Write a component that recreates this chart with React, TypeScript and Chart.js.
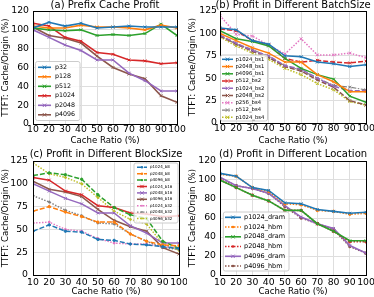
import React, { useEffect, useRef } from "react";
import { Chart, registerables } from "chart.js";
Chart.register(...registerables);

const FONT = '"DejaVu Sans", "Liberation Sans", sans-serif';

const ratios = [10, 20, 30, 40, 50, 60, 70, 80, 90, 100];
const yTicksA = { max: 120, step: 20 };
const yTicksB = { max: 125, step: 25 };

// (a) Prefix Cache Profit
const a_p32 = [102, 108, 104, 107, 102, 103, 104, 103, 103, 103];
const a_p128 = [104, 102, 102, 105, 103, 103, 102, 100, 105, 102];
const a_p512 = [102, 100, 99, 100, 94, 95, 94, 96, 106, 94];
const a_p1024 = [107, 104, 92, 88, 76, 74, 68, 67, 64, 65];
const a_p2048 = [100, 92, 84, 78, 68, 68, 54, 46, 35, 35];
const a_p4096 = [103, 94, 91, 86, 72, 60, 53, 48, 30, 23];

// (b) Profit in Different BatchSize
const b_p1024_bs1 = [106, 104, 92, 88, 75, 74, 68, 66, 63, 65];
const b_p2048_bs1 = [100, 92, 84, 78, 68, 68, 54, 46, 35, 35];
const b_p4096_bs1 = [103, 94, 91, 86, 72, 61, 54, 49, 30, 23];
const b_p512_bs2 = [105, 103, 92, 87, 72, 68, 70, 68, 67, 69];
const b_p1024_bs2 = [98, 89, 81, 75, 64, 60, 50, 41, 36, 36];
const b_p2048_bs2 = [97, 88, 80, 73, 63, 58, 48, 40, 25, 20];
const b_p256_bs4 = [120, 99, 97, 87, 77, 94, 76, 76, 78, 73];
const b_p512_bs4 = [98, 88, 82, 74, 64, 59, 50, 42, 40, 37];
const b_p1024_bs4 = [96, 86, 78, 71, 61, 54, 44, 37, 24, 20];

// (c) Profit in Different BlockSize
const c_p1024_b8 = [48, 55, 48, 47, 39, 38, 34, 33, 31, 29];
const c_p2048_b8 = [70, 75, 69, 64, 58, 58, 45, 37, 33, 32];
const c_p4096_b8 = [109, 112, 110, 105, 88, 74, 66, 62, 37, 29];
const c_p1024_b16 = [107, 104, 92, 88, 76, 74, 68, 67, 64, 65];
const c_p2048_b16 = [100, 92, 84, 78, 68, 68, 54, 46, 35, 35];
const c_p4096_b16 = [103, 94, 91, 86, 72, 60, 53, 48, 30, 23];
const c_p1024_b32 = [57, 58, 50, 48, 40, 35, 34, 34, 31, 30];
const c_p2048_b32 = [87, 80, 71, 65, 57, 56, 45, 37, 30, 28];
const c_p4096_b32 = [123, 111, 107, 100, 85, 70, 61, 56, 34, 27];

// (d) Profit in Different Location
const d_p1024_dram = [107, 104, 92, 89, 76, 75, 69, 67, 65, 66];
const d_p1024_hbm = [106, 104, 92, 88, 75, 74, 68, 67, 64, 65];
const d_p2048_dram = [100, 92, 84, 78, 68, 68, 54, 46, 36, 36];
const d_p2048_hbm = [100, 92, 84, 78, 68, 68, 54, 46, 35, 35];
const d_p4096_dram = [103, 94, 91, 86, 73, 61, 54, 49, 31, 23];
const d_p4096_hbm = [102, 94, 91, 86, 72, 60, 54, 48, 30, 23];

const BLUE = "#1f77b4", ORANGE = "#ff7f0e", GREEN = "#2ca02c", RED = "#d62728",
  PURPLE = "#9467bd", BROWN = "#8c564b", PINK = "#e377c2", GREY = "#7f7f7f", OLIVE = "#bcbd22";

const SOLID: number[] = [];
const DASHED = [5, 2];
const DOTTED = [1.5, 1.5];
const DASHDOT = [5, 1.5, 1.5, 1.5];

type Series = { label: string; data: number[]; color: string; dash: number[]; point: string; pr: number; lw: number };
const s = (label: string, data: number[], color: string, dash: number[], point = "crossRot", pr = 2, lw = 1.6): Series =>
  ({ label, data, color, dash, point, pr, lw });

type PanelCfg = {
  left: number; top: number; w: number; h: number;
  area: { L: number; T: number; R: number; B: number };
  title: string; titleY: number;
  yt: { max: number; step: number };
  yPad: number; xPad: number; xTitlePad: number;
  series: Series[];
  legend: { x: number; y: number; w: number; h: number; y0: number; dy: number; l0: number; l1: number; tx: number; fs: number };
};

const panels: PanelCfg[] = [
  {
    left: 0, top: 0, w: 187, h: 148,
    area: { L: 33, T: 11, R: 177, B: 124 },
    title: "(a) Prefix Cache Profit", titleY: 5,
    yt: yTicksA, yPad: 4, xPad: 0, xTitlePad: 2,
    series: [
      s("p32", a_p32, BLUE, SOLID),
      s("p128", a_p128, ORANGE, SOLID),
      s("p512", a_p512, GREEN, SOLID),
      s("p1024", a_p1024, RED, SOLID),
      s("p2048", a_p2048, PURPLE, SOLID),
      s("p4096", a_p4096, BROWN, SOLID),
    ],
    legend: { x: 35.5, y: 61.5, w: 44.5, h: 59, y0: 67.3, dy: 9.5, l0: 38, l1: 51, tx: 55, fs: 6.3 },
  },
  {
    left: 187, top: 0, w: 187, h: 148,
    area: { L: 33, T: 11, R: 179, B: 123 },
    title: "(b) Profit in Different BatchSize", titleY: 5,
    yt: yTicksB, yPad: 3, xPad: 0, xTitlePad: 2,
    series: [
      s("p1024_bs1", b_p1024_bs1, BLUE, SOLID, "crossRot", 2, 1.5),
      s("p2048_bs1", b_p2048_bs1, ORANGE, SOLID, "crossRot", 2, 1.5),
      s("p4096_bs1", b_p4096_bs1, GREEN, SOLID, "crossRot", 2, 1.5),
      s("p512_bs2", b_p512_bs2, RED, DASHED, "crossRot", 2, 1.5),
      s("p1024_bs2", b_p1024_bs2, PURPLE, DASHED, "crossRot", 2, 1.5),
      s("p2048_bs2", b_p2048_bs2, BROWN, DASHED, "crossRot", 2, 1.5),
      s("p256_bs4", b_p256_bs4, PINK, DOTTED, "crossRot", 2, 1.5),
      s("p512_bs4", b_p512_bs4, GREY, DASHDOT, "crossRot", 2, 1.2),
      s("p1024_bs4", b_p1024_bs4, OLIVE, DOTTED, "crossRot", 2, 1.5),
    ],
    legend: { x: 33.5, y: 55, w: 47, h: 66, y0: 59.3, dy: 7.25, l0: 35, l1: 46, tx: 48.5, fs: 5.3 },
  },
  {
    left: 0, top: 148, w: 187, h: 149,
    area: { L: 33, T: 13, R: 179, B: 127 },
    title: "(c) Profit in Different BlockSize", titleY: 6,
    yt: yTicksB, yPad: 5, xPad: 2, xTitlePad: 0,
    series: [
      s("p1024_b8", c_p1024_b8, BLUE, DASHED, "circle", 1.2, 1.5),
      s("p2048_b8", c_p2048_b8, ORANGE, DASHED, "circle", 1.2, 1.5),
      s("p4096_b8", c_p4096_b8, GREEN, DASHED, "circle", 1.2, 1.5),
      s("p1024_b16", c_p1024_b16, RED, SOLID, "crossRot", 2, 1.5),
      s("p2048_b16", c_p2048_b16, PURPLE, SOLID, "crossRot", 2, 1.5),
      s("p4096_b16", c_p4096_b16, BROWN, SOLID, "crossRot", 2, 1.5),
      s("p1024_b32", c_p1024_b32, PINK, DOTTED, "circle", 1, 1.4),
      s("p2048_b32", c_p2048_b32, GREY, DOTTED, "circle", 1, 1.4),
      s("p4096_b32", c_p4096_b32, OLIVE, DOTTED, "circle", 1, 1.4),
    ],
    legend: { x: 134, y: 15, w: 44, h: 60, y0: 19.3, dy: 6.4, l0: 137, l1: 147, tx: 150, fs: 4 },
  },
  {
    left: 187, top: 148, w: 187, h: 149,
    area: { L: 33, T: 13, R: 179, B: 127 },
    title: "(d) Profit in Different Location", titleY: 6,
    yt: yTicksA, yPad: 4, xPad: 2, xTitlePad: 0,
    series: [
      s("p1024_dram", d_p1024_dram, BLUE, SOLID),
      s("p1024_hbm", d_p1024_hbm, ORANGE, DOTTED, "circle", 1.3),
      s("p2048_dram", d_p2048_dram, GREEN, SOLID),
      s("p2048_hbm", d_p2048_hbm, RED, DOTTED, "circle", 1.3),
      s("p4096_dram", d_p4096_dram, PURPLE, SOLID),
      s("p4096_hbm", d_p4096_hbm, BROWN, DOTTED, "circle", 1.3),
    ],
    legend: { x: 36.3, y: 64, w: 65.7, h: 59, y0: 69.3, dy: 9.75, l0: 38, l1: 54, tx: 57, fs: 6.5 },
  },
];

function drawMarker(ctx: CanvasRenderingContext2D, style: string, r: number, x: number, y: number, color: string) {
  ctx.save();
  ctx.setLineDash([]);
  if (style === "circle") {
    ctx.fillStyle = color;
    ctx.beginPath();
    ctx.arc(x, y, r, 0, Math.PI * 2);
    ctx.fill();
  } else {
    const d = r * Math.SQRT1_2 * 1.2;
    ctx.strokeStyle = color;
    ctx.lineWidth = 1;
    ctx.beginPath();
    ctx.moveTo(x - d, y - d); ctx.lineTo(x + d, y + d);
    ctx.moveTo(x - d, y + d); ctx.lineTo(x + d, y - d);
    ctx.stroke();
  }
  ctx.restore();
}

function makeDeco(cfg: PanelCfg) {
  return {
    id: "deco",
    afterDatasetsDraw(chart: any) {
      const ctx: CanvasRenderingContext2D = chart.ctx;
      const a = chart.chartArea;
      ctx.save();
      // frame
      ctx.strokeStyle = "#000";
      ctx.lineWidth = 1;
      ctx.setLineDash([]);
      ctx.strokeRect(Math.round(a.left) + 0.5, Math.round(a.top) + 0.5,
        Math.round(a.right) - Math.round(a.left), Math.round(a.bottom) - Math.round(a.top));
      // legend
      const lg = cfg.legend;
      ctx.beginPath();
      const r = 2;
      const bx = lg.x, by = lg.y, bw = lg.w, bh = lg.h;
      ctx.moveTo(bx + r, by);
      ctx.lineTo(bx + bw - r, by);
      ctx.quadraticCurveTo(bx + bw, by, bx + bw, by + r);
      ctx.lineTo(bx + bw, by + bh - r);
      ctx.quadraticCurveTo(bx + bw, by + bh, bx + bw - r, by + bh);
      ctx.lineTo(bx + r, by + bh);
      ctx.quadraticCurveTo(bx, by + bh, bx, by + bh - r);
      ctx.lineTo(bx, by + r);
      ctx.quadraticCurveTo(bx, by, bx + r, by);
      ctx.closePath();
      ctx.fillStyle = "rgba(255,255,255,0.8)";
      ctx.fill();
      ctx.strokeStyle = "#cccccc";
      ctx.lineWidth = 1;
      ctx.stroke();
      ctx.font = `${lg.fs}px ${FONT}`;
      ctx.textBaseline = "middle";
      ctx.textAlign = "left";
      cfg.series.forEach((se, i) => {
        const y = lg.y0 + i * lg.dy;
        ctx.strokeStyle = se.color;
        ctx.lineWidth = se.lw;
        ctx.setLineDash(se.dash);
        ctx.beginPath();
        ctx.moveTo(lg.l0, y);
        ctx.lineTo(lg.l1, y);
        ctx.stroke();
        ctx.setLineDash([]);
        drawMarker(ctx, se.point, se.pr, (lg.l0 + lg.l1) / 2, y, se.color);
        ctx.fillStyle = "#000";
        ctx.fillText(se.label, lg.tx, y);
      });
      // title
      ctx.font = `10px ${FONT}`;
      ctx.textAlign = "center";
      ctx.textBaseline = "middle";
      ctx.fillStyle = "#000";
      ctx.fillText(cfg.title, (a.left + a.right) / 2, cfg.titleY);
      ctx.restore();
    },
  };
}

function Panel({ cfg }: { cfg: PanelCfg }) {
  const ref = useRef<HTMLCanvasElement>(null);
  useEffect(() => {
    const { L, T, R, B } = cfg.area;
    const grid = { color: "#dedede", lineWidth: 1, drawTicks: false };
    const chart = new Chart(ref.current as HTMLCanvasElement, {
      type: "line",
      data: {
        datasets: cfg.series.map((se) => ({
          label: se.label,
          data: ratios.map((r, i) => ({ x: r, y: se.data[i] })),
          borderColor: se.color,
          backgroundColor: se.color,
          borderWidth: se.lw,
          borderDash: se.dash,
          pointStyle: se.point as any,
          pointRadius: se.pr,
          pointBorderWidth: 1,
          pointBorderColor: se.color,
          pointBackgroundColor: se.color,
          tension: 0,
          fill: false,
        })),
      },
      options: {
        responsive: false,
        animation: false,
        devicePixelRatio: 1,
        events: [],
        layout: { padding: { top: T, right: cfg.w - R, bottom: 0, left: 0 } },
        plugins: { legend: { display: false }, title: { display: false }, tooltip: { enabled: false } },
        scales: {
          x: {
            type: "linear",
            min: 10,
            max: 100,
            ticks: { stepSize: 10, padding: cfg.xPad, color: "#000", font: { family: FONT, size: 9.3 }, maxRotation: 0, autoSkip: false },
            grid,
            border: { display: false },
            title: { display: true, text: "Cache Ratio (%)", color: "#000", font: { family: FONT, size: 8.6 }, padding: { top: 0, bottom: cfg.xTitlePad } },
            afterFit: (sc: any) => { sc.height = cfg.h - B; sc.paddingLeft = 0; sc.paddingRight = 0; },
          },
          y: {
            type: "linear",
            min: 0,
            max: cfg.yt.max,
            ticks: { stepSize: cfg.yt.step, padding: cfg.yPad, color: "#000", font: { family: FONT, size: 9.3 }, autoSkip: false },
            grid,
            border: { display: false },
            title: { display: true, text: "TTFT: Cache/Origin (%)", color: "#000", font: { family: FONT, size: 8.6 }, padding: { top: 1, bottom: 0 } },
            afterFit: (sc: any) => { sc.width = L; sc.paddingTop = 0; sc.paddingBottom = 0; },
          },
        },
      },
      plugins: [makeDeco(cfg) as any],
    });
    return () => chart.destroy();
  }, [cfg]);
  return (
    <div style={{ position: "absolute", left: cfg.left, top: cfg.top, width: cfg.w, height: cfg.h }}>
      <canvas ref={ref} width={cfg.w} height={cfg.h} style={{ display: "block", width: cfg.w, height: cfg.h }} />
    </div>
  );
}

export default function App() {
  return (
    <div style={{ position: "fixed", left: 0, top: 0, width: 374, height: 297, background: "#fff", overflow: "hidden" }}>
      {panels.map((p, i) => (
        <Panel key={i} cfg={p} />
      ))}
    </div>
  );
}
